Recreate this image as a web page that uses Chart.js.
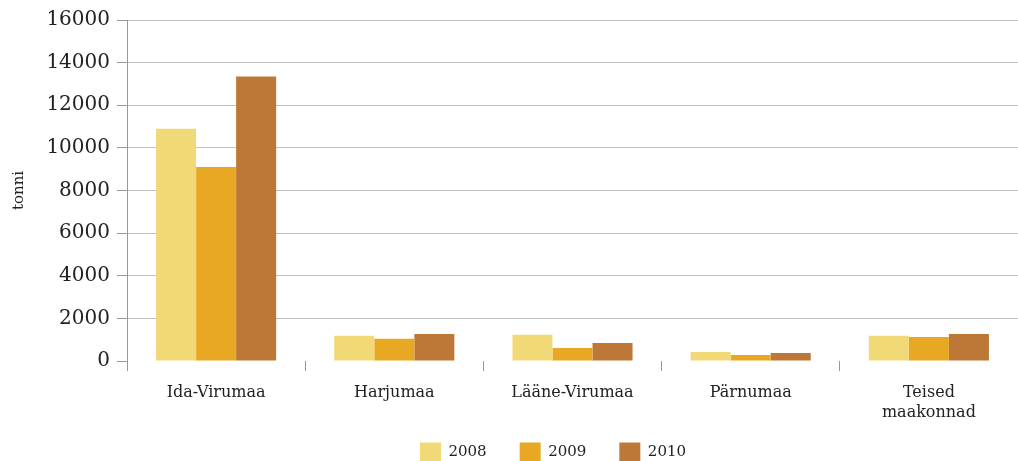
<!DOCTYPE html>
<html>
<head>
<meta charset="utf-8">
<script src="https://cdn.jsdelivr.net/npm/chart.js@4/dist/chart.umd.min.js"></script>
<style>
    html, body { margin: 0; padding: 0; background: #fff; }
    #wrap { width: 1018px; height: 461px; position: relative; }
</style>
</head>
<body>
<div id="wrap"><canvas id="tonnesChart"></canvas></div>
<script>
// data
const regions = ["Ida-Virumaa", "Harjumaa", "Lääne-Virumaa", "Pärnumaa", ["Teised", "maakonnad"]];
const years = ["2008", "2009", "2010"];
const values2008 = [10900, 1180, 1230, 420, 1180];
const values2009 = [9100, 1040, 610, 280, 1130];
const values2010 = [13350, 1270, 850, 370, 1270];
const yTicks = [0, 2000, 4000, 6000, 8000, 10000, 12000, 14000, 16000];

const barColors = ["#F2D978", "#E9A823", "#BD7837"];
const serif = "'DejaVu Serif', serif";

document.addEventListener("DOMContentLoaded", () => {
    renderChart();
});

// legend in the original sits right of centre and overlaps the label band
const legendShift = {
    id: 'legendShift',
    afterLayout(chart){
        const lg = chart.legend;
        if (!lg) return;
        lg.left += 44;
        lg.right += 44;
        lg.top -= 21.5;
        lg.bottom -= 21.5;
    }
};

function renderChart(){
    const ctx = document.getElementById("tonnesChart").getContext("2d");

    new Chart(ctx, {
        type: 'bar',
        data: {
            labels: regions,
            datasets: [
                { label: years[0], data: values2008, backgroundColor: barColors[0] },
                { label: years[1], data: values2009, backgroundColor: barColors[1] },
                { label: years[2], data: values2010, backgroundColor: barColors[2] }
            ]
        },
        plugins: [legendShift],
        options: {
            responsive: true,
            maintainAspectRatio: false,
            animation: false,
            categoryPercentage: 0.674,
            barPercentage: 1,
            layout: {
                padding: { top: 20, left: 0, right: 0, bottom: -33 }
            },
            plugins: {
                tooltip: { enabled: false },
                legend: {
                    position: 'bottom',
                    labels: {
                        boxWidth: 21,
                        boxHeight: 20,
                        padding: 33,
                        color: '#222',
                        font: { family: serif, size: 15 }
                    }
                }
            },
            scales: {
                x: {
                    offset: true,
                    border: { display: false },
                    grid: {
                        offset: true,
                        drawOnChartArea: false,
                        drawTicks: true,
                        tickLength: 10,
                        tickColor: '#999',
                        lineWidth: 1
                    },
                    ticks: {
                        padding: 12,
                        color: '#222',
                        maxRotation: 0,
                        font: { family: serif, size: 16, lineHeight: 1.25 }
                    },
                    afterFit: function(scale){
                        scale.height = 70;
                    }
                },
                y: {
                    min: 0,
                    max: 16000,
                    afterBuildTicks: function(scale){
                        scale.ticks = yTicks.map(v => ({ value: v }));
                    },
                    border: { display: true, color: '#999', width: 1 },
                    grid: {
                        color: function(c){
                            return c.tick && c.tick.value === 0 ? 'rgba(0,0,0,0)' : '#c2c2c2';
                        },
                        tickColor: '#999',
                        tickLength: 10,
                        lineWidth: 1
                    },
                    ticks: {
                        padding: 7,
                        color: '#222',
                        font: { family: serif, size: 20 },
                        callback: function(value){
                            return String(value);
                        }
                    },
                    title: {
                        display: true,
                        text: 'tonni',
                        color: '#222',
                        padding: { top: 10, bottom: 0 },
                        font: { family: serif, size: 15 }
                    },
                    afterFit: function(scale){
                        scale.width = 127;
                    }
                }
            }
        }
    });
}
</script>
</body>
</html>
